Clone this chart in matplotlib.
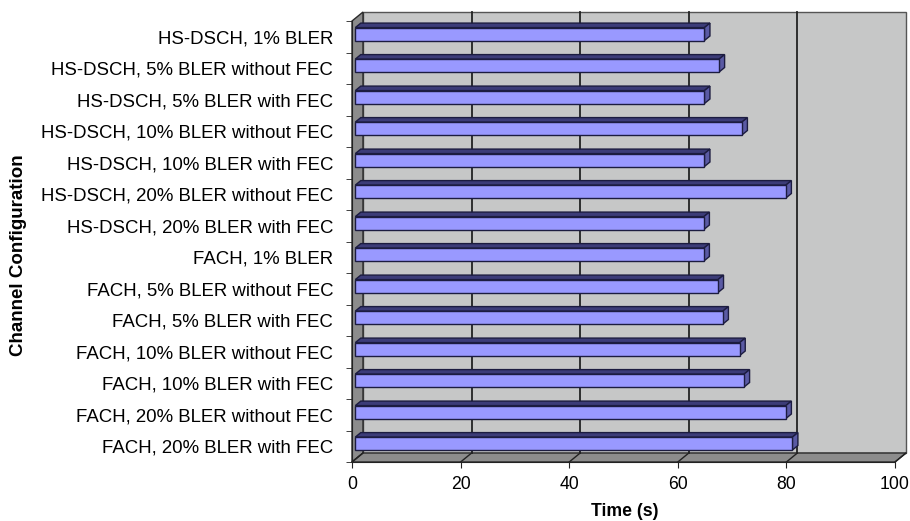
import numpy as np
import matplotlib.pyplot as plt
from matplotlib.patches import Polygon

plt.rcParams.update({
    'font.family': ['Liberation Sans', 'DejaVu Sans'],
    'font.size': 12.7,
})

# data, top row first
configs = [
    'HS-DSCH, 1% BLER',
    'HS-DSCH, 5% BLER without FEC',
    'HS-DSCH, 5% BLER with FEC',
    'HS-DSCH, 10% BLER without FEC',
    'HS-DSCH, 10% BLER with FEC',
    'HS-DSCH, 20% BLER without FEC',
    'HS-DSCH, 20% BLER with FEC',
    'FACH, 1% BLER',
    'FACH, 5% BLER without FEC',
    'FACH, 5% BLER with FEC',
    'FACH, 10% BLER without FEC',
    'FACH, 10% BLER with FEC',
    'FACH, 20% BLER without FEC',
    'FACH, 20% BLER with FEC',
]
times = [64.3, 67.0, 64.3, 71.2, 64.3, 79.3, 64.2,
         64.2, 66.8, 67.7, 70.8, 71.6, 79.3, 80.5]
x_ticks = [0, 20, 40, 60, 80, 100]

W, H = 910, 521
n = len(configs)

fig = plt.figure(figsize=(W / 100, H / 100), dpi=100)
ax = fig.add_axes([352 / W, 1 - 462 / H, 543 / W, 441 / H])
ax.set_xlim(0, 100)
ax.set_ylim(n - 0.5, -0.5)
ax.patch.set_visible(False)

# depth of the fake 3d box, in data units
DX = 11 / 5.43
DY = 9 / 31.5


def sh(x, y, f):
    return (x + f * DX, y - f * DY)


def poly(pts, fc, ec='#2a2a2a', lw=1.0, z=1):
    ax.add_patch(Polygon(pts, closed=True, facecolor=fc, edgecolor=ec,
                         linewidth=lw, zorder=z, clip_on=False))


y0, y1 = -0.5, n - 0.5
# back wall, side wall, floor
poly([sh(0, y0, 1), sh(100, y0, 1), sh(100, y1, 1), sh(0, y1, 1)], '#c6c7c7', ec='#555555')
poly([(0, y0), sh(0, y0, 1), sh(0, y1, 1), (0, y1)], '#8c8c8c')
poly([(0, y1), (100, y1), sh(100, y1, 1), sh(0, y1, 1)], '#8c8c8c')

for t in x_ticks:
    if 0 < t < 100:
        p, q = sh(t, y0, 1), sh(t, y1, 1)
        ax.plot([p[0], q[0]], [p[1], q[1]], color='#222222', lw=1.3, zorder=2, clip_on=False)
    p = sh(t, y1, 1)
    ax.plot([t, p[0]], [y1, p[1]], color='#222222', lw=1.0, zorder=2, clip_on=False)

# bars
h = 0.41
f0, f1 = 0.3, 0.8
for i, v in enumerate(times):
    top, bot = i - h / 2, i + h / 2
    poly([sh(0, top, f0), sh(v, top, f0), sh(v, top, f1), sh(0, top, f1)],
         '#3c3c78', ec='#1c1c40', lw=1.0, z=3)
    poly([sh(v, top, f0), sh(v, top, f1), sh(v, bot, f1), sh(v, bot, f0)],
         '#5a5aa4', ec='#1c1c40', lw=1.0, z=3)
    poly([sh(0, top, f0), sh(v, top, f0), sh(v, bot, f0), sh(0, bot, f0)],
         '#9999ff', ec='#1c1c40', lw=1.0, z=4)

for s in ['top', 'right']:
    ax.spines[s].set_visible(False)
for s in ['left', 'bottom']:
    ax.spines[s].set_color('#222222')
    ax.spines[s].set_zorder(5)

ax.set_yticks(np.arange(n))
ax.set_yticklabels(configs, fontsize=13.4)
ax.set_yticks(np.arange(n + 1) - 0.5, minor=True)
ax.tick_params(axis='y', which='major', length=0, pad=13.5)
ax.tick_params(axis='y', which='minor', length=4, color='#222222', direction='out')
ax.set_xticks(x_ticks)
ax.tick_params(axis='x', length=4, color='#222222', pad=6)

fig.text(625 / W, 1 - 512 / H, 'Time (s)', ha='center', va='center', weight='bold')
fig.text(19 / W, 1 - 255 / H, 'Channel Configuration', ha='center', va='center',
         rotation=90, weight='bold', fontsize=13.5)

fig.savefig('out.png', dpi=100)
